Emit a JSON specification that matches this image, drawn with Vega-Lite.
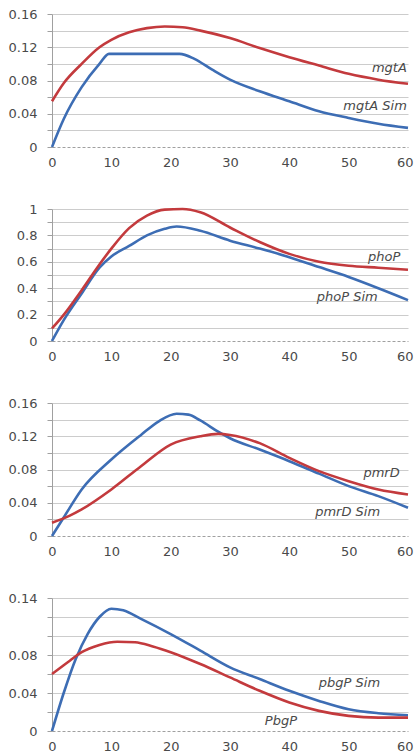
{
  "$schema": "https://vega.github.io/schema/vega-lite/v6.json",
  "padding": {"left": 8, "top": 8, "right": 0, "bottom": 0},
  "spacing": 34,
  "config": {
    "view": {"stroke": null},
    "font": "DejaVu Sans",
    "axis": {"labelFont": "DejaVu Sans", "labelFontSize": 13, "labelColor": "#4a4a4a", "domainColor": "#a0a0a0", "tickColor": "#a0a0a0"},
    "axisX": {"labelAlign": {"condition": {"test": "datum.value === 60", "value": "right"}, "value": "center"}, "labelOffset": {"condition": {"test": "datum.value === 60", "value": 5}, "value": 0}},
    "line": {"strokeWidth": 2.6, "interpolate": "monotone"},
    "text": {"font": "DejaVu Sans", "fontSize": 13, "fontStyle": "italic", "color": "#4a4a4a", "align": "right", "baseline": "middle"}
  },
  "datasets": {
    "curves": [
      {"p": "mgtA", "k": "sim", "t": 0, "v": 0},
      {"p": "mgtA", "k": "sim", "t": 2, "v": 0.034},
      {"p": "mgtA", "k": "sim", "t": 5, "v": 0.072},
      {"p": "mgtA", "k": "sim", "t": 8, "v": 0.1},
      {"p": "mgtA", "k": "sim", "t": 9.6, "v": 0.112},
      {"p": "mgtA", "k": "sim", "t": 15, "v": 0.112},
      {"p": "mgtA", "k": "sim", "t": 21.5, "v": 0.112},
      {"p": "mgtA", "k": "sim", "t": 24, "v": 0.106},
      {"p": "mgtA", "k": "sim", "t": 27, "v": 0.093},
      {"p": "mgtA", "k": "sim", "t": 30, "v": 0.081},
      {"p": "mgtA", "k": "sim", "t": 35, "v": 0.067},
      {"p": "mgtA", "k": "sim", "t": 40, "v": 0.055},
      {"p": "mgtA", "k": "sim", "t": 45, "v": 0.043},
      {"p": "mgtA", "k": "sim", "t": 50, "v": 0.035},
      {"p": "mgtA", "k": "sim", "t": 55, "v": 0.028},
      {"p": "mgtA", "k": "sim", "t": 60, "v": 0.023},
      {"p": "mgtA", "k": "exp", "t": 0, "v": 0.055},
      {"p": "mgtA", "k": "exp", "t": 2, "v": 0.077},
      {"p": "mgtA", "k": "exp", "t": 5, "v": 0.1},
      {"p": "mgtA", "k": "exp", "t": 8, "v": 0.12},
      {"p": "mgtA", "k": "exp", "t": 10, "v": 0.129},
      {"p": "mgtA", "k": "exp", "t": 13, "v": 0.138},
      {"p": "mgtA", "k": "exp", "t": 16, "v": 0.143},
      {"p": "mgtA", "k": "exp", "t": 19, "v": 0.145},
      {"p": "mgtA", "k": "exp", "t": 22, "v": 0.144},
      {"p": "mgtA", "k": "exp", "t": 25, "v": 0.14},
      {"p": "mgtA", "k": "exp", "t": 30, "v": 0.131},
      {"p": "mgtA", "k": "exp", "t": 35, "v": 0.119},
      {"p": "mgtA", "k": "exp", "t": 40, "v": 0.108},
      {"p": "mgtA", "k": "exp", "t": 45, "v": 0.098},
      {"p": "mgtA", "k": "exp", "t": 50, "v": 0.088},
      {"p": "mgtA", "k": "exp", "t": 55, "v": 0.081},
      {"p": "mgtA", "k": "exp", "t": 60, "v": 0.076},

      {"p": "phoP", "k": "sim", "t": 0, "v": 0},
      {"p": "phoP", "k": "sim", "t": 2, "v": 0.16},
      {"p": "phoP", "k": "sim", "t": 5, "v": 0.36},
      {"p": "phoP", "k": "sim", "t": 8, "v": 0.555},
      {"p": "phoP", "k": "sim", "t": 10, "v": 0.64},
      {"p": "phoP", "k": "sim", "t": 13, "v": 0.72},
      {"p": "phoP", "k": "sim", "t": 16, "v": 0.8},
      {"p": "phoP", "k": "sim", "t": 19, "v": 0.85},
      {"p": "phoP", "k": "sim", "t": 21, "v": 0.867},
      {"p": "phoP", "k": "sim", "t": 25, "v": 0.835},
      {"p": "phoP", "k": "sim", "t": 30, "v": 0.76},
      {"p": "phoP", "k": "sim", "t": 35, "v": 0.7},
      {"p": "phoP", "k": "sim", "t": 40, "v": 0.635},
      {"p": "phoP", "k": "sim", "t": 45, "v": 0.56},
      {"p": "phoP", "k": "sim", "t": 50, "v": 0.485},
      {"p": "phoP", "k": "sim", "t": 55, "v": 0.4},
      {"p": "phoP", "k": "sim", "t": 60, "v": 0.31},
      {"p": "phoP", "k": "exp", "t": 0, "v": 0.095},
      {"p": "phoP", "k": "exp", "t": 2, "v": 0.2},
      {"p": "phoP", "k": "exp", "t": 5, "v": 0.385},
      {"p": "phoP", "k": "exp", "t": 8, "v": 0.58},
      {"p": "phoP", "k": "exp", "t": 10, "v": 0.7},
      {"p": "phoP", "k": "exp", "t": 13, "v": 0.855},
      {"p": "phoP", "k": "exp", "t": 16, "v": 0.95},
      {"p": "phoP", "k": "exp", "t": 19, "v": 0.995},
      {"p": "phoP", "k": "exp", "t": 22, "v": 1.0},
      {"p": "phoP", "k": "exp", "t": 25, "v": 0.975},
      {"p": "phoP", "k": "exp", "t": 30, "v": 0.86},
      {"p": "phoP", "k": "exp", "t": 35, "v": 0.75},
      {"p": "phoP", "k": "exp", "t": 40, "v": 0.66},
      {"p": "phoP", "k": "exp", "t": 45, "v": 0.6},
      {"p": "phoP", "k": "exp", "t": 50, "v": 0.57},
      {"p": "phoP", "k": "exp", "t": 55, "v": 0.555},
      {"p": "phoP", "k": "exp", "t": 60, "v": 0.54},

      {"p": "pmrD", "k": "sim", "t": 0, "v": 0},
      {"p": "pmrD", "k": "sim", "t": 2, "v": 0.0226},
      {"p": "pmrD", "k": "sim", "t": 5, "v": 0.056},
      {"p": "pmrD", "k": "sim", "t": 10, "v": 0.092},
      {"p": "pmrD", "k": "sim", "t": 15, "v": 0.1216},
      {"p": "pmrD", "k": "sim", "t": 18, "v": 0.138},
      {"p": "pmrD", "k": "sim", "t": 21, "v": 0.147},
      {"p": "pmrD", "k": "sim", "t": 23, "v": 0.146},
      {"p": "pmrD", "k": "sim", "t": 25, "v": 0.139},
      {"p": "pmrD", "k": "sim", "t": 28, "v": 0.1255},
      {"p": "pmrD", "k": "sim", "t": 30, "v": 0.1176},
      {"p": "pmrD", "k": "sim", "t": 35, "v": 0.104},
      {"p": "pmrD", "k": "sim", "t": 40, "v": 0.09},
      {"p": "pmrD", "k": "sim", "t": 45, "v": 0.075},
      {"p": "pmrD", "k": "sim", "t": 50, "v": 0.06},
      {"p": "pmrD", "k": "sim", "t": 55, "v": 0.048},
      {"p": "pmrD", "k": "sim", "t": 60, "v": 0.034},
      {"p": "pmrD", "k": "exp", "t": 0, "v": 0.016},
      {"p": "pmrD", "k": "exp", "t": 3, "v": 0.0245},
      {"p": "pmrD", "k": "exp", "t": 5, "v": 0.032},
      {"p": "pmrD", "k": "exp", "t": 10, "v": 0.056},
      {"p": "pmrD", "k": "exp", "t": 15, "v": 0.084},
      {"p": "pmrD", "k": "exp", "t": 20, "v": 0.11},
      {"p": "pmrD", "k": "exp", "t": 25, "v": 0.12},
      {"p": "pmrD", "k": "exp", "t": 28, "v": 0.1228},
      {"p": "pmrD", "k": "exp", "t": 30, "v": 0.1216},
      {"p": "pmrD", "k": "exp", "t": 35, "v": 0.1117},
      {"p": "pmrD", "k": "exp", "t": 40, "v": 0.094},
      {"p": "pmrD", "k": "exp", "t": 45, "v": 0.078},
      {"p": "pmrD", "k": "exp", "t": 50, "v": 0.066},
      {"p": "pmrD", "k": "exp", "t": 55, "v": 0.056},
      {"p": "pmrD", "k": "exp", "t": 60, "v": 0.05},

      {"p": "pbgP", "k": "sim", "t": 0, "v": 0},
      {"p": "pbgP", "k": "sim", "t": 2, "v": 0.0405},
      {"p": "pbgP", "k": "sim", "t": 4, "v": 0.0758},
      {"p": "pbgP", "k": "sim", "t": 6, "v": 0.102},
      {"p": "pbgP", "k": "sim", "t": 8, "v": 0.12},
      {"p": "pbgP", "k": "sim", "t": 10, "v": 0.1287},
      {"p": "pbgP", "k": "sim", "t": 12, "v": 0.127},
      {"p": "pbgP", "k": "sim", "t": 15, "v": 0.118},
      {"p": "pbgP", "k": "sim", "t": 20, "v": 0.102},
      {"p": "pbgP", "k": "sim", "t": 25, "v": 0.0846},
      {"p": "pbgP", "k": "sim", "t": 30, "v": 0.067},
      {"p": "pbgP", "k": "sim", "t": 35, "v": 0.0547},
      {"p": "pbgP", "k": "sim", "t": 40, "v": 0.0423},
      {"p": "pbgP", "k": "sim", "t": 45, "v": 0.0317},
      {"p": "pbgP", "k": "sim", "t": 50, "v": 0.0229},
      {"p": "pbgP", "k": "sim", "t": 55, "v": 0.0187},
      {"p": "pbgP", "k": "sim", "t": 60, "v": 0.0166},
      {"p": "pbgP", "k": "exp", "t": 0, "v": 0.06},
      {"p": "pbgP", "k": "exp", "t": 3, "v": 0.074},
      {"p": "pbgP", "k": "exp", "t": 5, "v": 0.083},
      {"p": "pbgP", "k": "exp", "t": 8, "v": 0.0906},
      {"p": "pbgP", "k": "exp", "t": 11, "v": 0.094},
      {"p": "pbgP", "k": "exp", "t": 14, "v": 0.0934},
      {"p": "pbgP", "k": "exp", "t": 17, "v": 0.089},
      {"p": "pbgP", "k": "exp", "t": 20, "v": 0.083},
      {"p": "pbgP", "k": "exp", "t": 25, "v": 0.0705},
      {"p": "pbgP", "k": "exp", "t": 30, "v": 0.0564},
      {"p": "pbgP", "k": "exp", "t": 35, "v": 0.0423},
      {"p": "pbgP", "k": "exp", "t": 40, "v": 0.03},
      {"p": "pbgP", "k": "exp", "t": 45, "v": 0.0212},
      {"p": "pbgP", "k": "exp", "t": 50, "v": 0.0159},
      {"p": "pbgP", "k": "exp", "t": 55, "v": 0.0141},
      {"p": "pbgP", "k": "exp", "t": 60, "v": 0.0141}
    ],
    "labels": [
      {"p": "mgtA", "t": 59.8, "v": 0.095, "label": "mgtA"},
      {"p": "mgtA", "t": 59.8, "v": 0.049, "label": "mgtA Sim"},
      {"p": "phoP", "t": 58.7, "v": 0.636, "label": "phoP"},
      {"p": "phoP", "t": 54.9, "v": 0.333, "label": "phoP Sim"},
      {"p": "pmrD", "t": 58.6, "v": 0.076, "label": "pmrD"},
      {"p": "pmrD", "t": 55.3, "v": 0.0284, "label": "pmrD Sim"},
      {"p": "pbgP", "t": 55.3, "v": 0.0505, "label": "pbgP Sim"},
      {"p": "pbgP", "t": 41.3, "v": 0.0105, "label": "PbgP"}
    ]
  },
  "vconcat": [
    {
      "width": 356, "height": 133,
      "layer": [
        {
          "data": {"name": "curves"},
          "transform": [{"filter": "datum.p == 'mgtA'"}],
          "mark": {"type": "line"},
          "encoding": {
            "x": {"field": "t", "type": "quantitative", "scale": {"domain": [0, 60], "nice": false},
                  "axis": {"title": null, "values": [0, 10, 20, 30, 40, 50, 60], "tickCount": 20, "format": "d", "grid": false, "ticks": false, "domainDash": [3, 2], "labelPadding": 9, "labelFlush": false, "labelOverlap": false}},
            "y": {"field": "v", "type": "quantitative", "scale": {"domain": [0, 0.16], "nice": false},
                  "axis": {"title": null, "values": [0, 0.02, 0.04, 0.06, 0.08, 0.1, 0.12, 0.14, 0.16], "tickCount": 20, "labelExpr": "round(datum.value*100) % 4 == 0 ? '' + round(datum.value*100)/100 : ''", "labelOverlap": false, "grid": true, "gridColor": {"condition": {"test": "datum.value === 0", "value": "transparent"}, "value": "#cccccc"}, "tickSize": 5, "labelPadding": 10, "minExtent": 44, "maxExtent": 44}},
            "color": {"field": "k", "type": "nominal", "scale": {"domain": ["exp", "sim"], "range": ["#c33a3d", "#3d6db4"]}, "legend": null}
          }
        },
        {
          "data": {"name": "labels"},
          "transform": [{"filter": "datum.p == 'mgtA'"}],
          "mark": {"type": "text"},
          "encoding": {
            "x": {"field": "t", "type": "quantitative"},
            "y": {"field": "v", "type": "quantitative"},
            "text": {"field": "label"}
          }
        }
      ]
    },
    {
      "width": 356, "height": 132,
      "layer": [
        {
          "data": {"name": "curves"},
          "transform": [{"filter": "datum.p == 'phoP'"}],
          "mark": {"type": "line"},
          "encoding": {
            "x": {"field": "t", "type": "quantitative", "scale": {"domain": [0, 60], "nice": false},
                  "axis": {"title": null, "values": [0, 10, 20, 30, 40, 50, 60], "tickCount": 20, "format": "d", "grid": false, "ticks": false, "domainDash": [3, 2], "labelPadding": 9, "labelFlush": false, "labelOverlap": false}},
            "y": {"field": "v", "type": "quantitative", "scale": {"domain": [0, 1], "nice": false},
                  "axis": {"title": null, "values": [0, 0.1, 0.2, 0.3, 0.4, 0.5, 0.6, 0.7, 0.8, 0.9, 1], "tickCount": 20, "labelExpr": "round(datum.value*10) % 2 == 0 ? '' + round(datum.value*10)/10 : ''", "labelOverlap": false, "grid": true, "gridColor": {"condition": {"test": "datum.value === 0", "value": "transparent"}, "value": "#cccccc"}, "tickSize": 5, "labelPadding": 10, "minExtent": 44, "maxExtent": 44}},
            "color": {"field": "k", "type": "nominal", "scale": {"domain": ["exp", "sim"], "range": ["#c33a3d", "#3d6db4"]}, "legend": null}
          }
        },
        {
          "data": {"name": "labels"},
          "transform": [{"filter": "datum.p == 'phoP'"}],
          "mark": {"type": "text"},
          "encoding": {
            "x": {"field": "t", "type": "quantitative"},
            "y": {"field": "v", "type": "quantitative"},
            "text": {"field": "label"}
          }
        }
      ]
    },
    {
      "width": 356, "height": 133,
      "layer": [
        {
          "data": {"name": "curves"},
          "transform": [{"filter": "datum.p == 'pmrD'"}],
          "mark": {"type": "line"},
          "encoding": {
            "x": {"field": "t", "type": "quantitative", "scale": {"domain": [0, 60], "nice": false},
                  "axis": {"title": null, "values": [0, 10, 20, 30, 40, 50, 60], "tickCount": 20, "format": "d", "grid": false, "ticks": false, "domainDash": [3, 2], "labelPadding": 9, "labelFlush": false, "labelOverlap": false}},
            "y": {"field": "v", "type": "quantitative", "scale": {"domain": [0, 0.16], "nice": false},
                  "axis": {"title": null, "values": [0, 0.02, 0.04, 0.06, 0.08, 0.1, 0.12, 0.14, 0.16], "tickCount": 20, "labelExpr": "round(datum.value*100) % 4 == 0 ? '' + round(datum.value*100)/100 : ''", "labelOverlap": false, "grid": true, "gridColor": {"condition": {"test": "datum.value === 0", "value": "transparent"}, "value": "#cccccc"}, "tickSize": 5, "labelPadding": 10, "minExtent": 44, "maxExtent": 44}},
            "color": {"field": "k", "type": "nominal", "scale": {"domain": ["exp", "sim"], "range": ["#c33a3d", "#3d6db4"]}, "legend": null}
          }
        },
        {
          "data": {"name": "labels"},
          "transform": [{"filter": "datum.p == 'pmrD'"}],
          "mark": {"type": "text"},
          "encoding": {
            "x": {"field": "t", "type": "quantitative"},
            "y": {"field": "v", "type": "quantitative"},
            "text": {"field": "label"}
          }
        }
      ]
    },
    {
      "width": 356, "height": 133,
      "layer": [
        {
          "data": {"name": "curves"},
          "transform": [{"filter": "datum.p == 'pbgP'"}],
          "mark": {"type": "line"},
          "encoding": {
            "x": {"field": "t", "type": "quantitative", "scale": {"domain": [0, 60], "nice": false},
                  "axis": {"title": null, "values": [0, 10, 20, 30, 40, 50, 60], "tickCount": 20, "format": "d", "grid": false, "ticks": false, "domainDash": [3, 2], "labelPadding": 9, "labelFlush": false, "labelOverlap": false}},
            "y": {"field": "v", "type": "quantitative", "scale": {"domain": [0, 0.14], "nice": false},
                  "axis": {"title": null, "values": [0, 0.02, 0.04, 0.06, 0.08, 0.1, 0.12, 0.14], "tickCount": 20, "labelExpr": "indexof([0, 4, 8, 14], round(datum.value*100)) >= 0 ? '' + round(datum.value*100)/100 : ''", "labelOverlap": false, "grid": true, "gridColor": {"condition": {"test": "datum.value === 0", "value": "transparent"}, "value": "#cccccc"}, "tickSize": 5, "labelPadding": 10, "minExtent": 44, "maxExtent": 44}},
            "color": {"field": "k", "type": "nominal", "scale": {"domain": ["exp", "sim"], "range": ["#c33a3d", "#3d6db4"]}, "legend": null}
          }
        },
        {
          "data": {"name": "labels"},
          "transform": [{"filter": "datum.p == 'pbgP'"}],
          "mark": {"type": "text"},
          "encoding": {
            "x": {"field": "t", "type": "quantitative"},
            "y": {"field": "v", "type": "quantitative"},
            "text": {"field": "label"}
          }
        }
      ]
    }
  ]
}
